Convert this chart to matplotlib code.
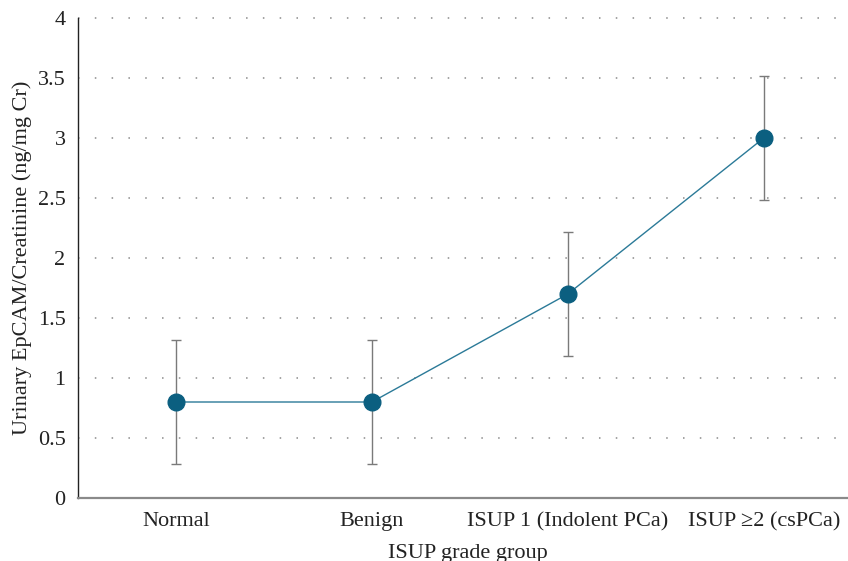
import matplotlib
matplotlib.use("Agg")
import matplotlib.pyplot as plt

plt.rcParams["font.family"] = ["Liberation Serif", "DejaVu Serif"]

# ── Data ──────────────────────────────────────────────────────────────────────
groups = ["Normal", "Benign", "ISUP 1 (Indolent PCa)", "ISUP \u22652 (csPCa)"]
means = [0.80, 0.80, 1.70, 3.00]
errors = [0.52, 0.52, 0.52, 0.52]
y_ticks = [0, 0.5, 1, 1.5, 2, 2.5, 3, 3.5, 4]
y_tick_labels = ["0", "0.5", "1", "1.5", "2", "2.5", "3", "3.5", "4"]

# ── Figure ────────────────────────────────────────────────────────────────────
fig = plt.figure(figsize=(8.48, 5.61), dpi=100)
ax = fig.add_axes([0.092, 0.1123, 0.908, 0.8556])

x = list(range(len(groups)))

ax.errorbar(x, means, yerr=errors, fmt="none", ecolor="#7a7a7a",
            elinewidth=1.0, capsize=3.5, capthick=1.0, zorder=2)
ax.plot(x, means, color="#2b7a98", linewidth=1.0, zorder=3)
ax.plot(x, means, linestyle="none", marker="o", markersize=12,
        color="#0b5f80", zorder=4)

ax.set_xlim(-0.5, 3.43)
ax.set_ylim(0, 4)
ax.set_yticks(y_ticks)
ax.set_yticklabels(y_tick_labels)
ax.set_xticks(x)
ax.set_xticklabels(groups)

for yv in y_ticks[1:]:
    ax.axhline(yv, color="#8a8a8a", linewidth=1.1,
               linestyle=(0, (1, 10)), zorder=1, clip_on=False)

ax.tick_params(axis="both", length=0, labelsize=16, colors="#222222")
ax.tick_params(axis="x", pad=10)
ax.tick_params(axis="y", pad=9)

for side in ["top", "right"]:
    ax.spines[side].set_visible(False)
ax.spines["left"].set_color("#222222")
ax.spines["left"].set_linewidth(1.0)
ax.spines["bottom"].set_color("#8a8a8a")
ax.spines["bottom"].set_linewidth(1.6)

ax.set_ylabel("Urinary EpCAM/Creatinine (ng/mg Cr)", fontsize=16,
              color="#222222", labelpad=4)
ax.set_xlabel("ISUP grade group", fontsize=16, color="#222222", labelpad=8)
ax.xaxis.set_label_coords(0.5 + 5 / 770, -0.095)

fig.savefig("out.png", dpi=100)
plt.close(fig)
